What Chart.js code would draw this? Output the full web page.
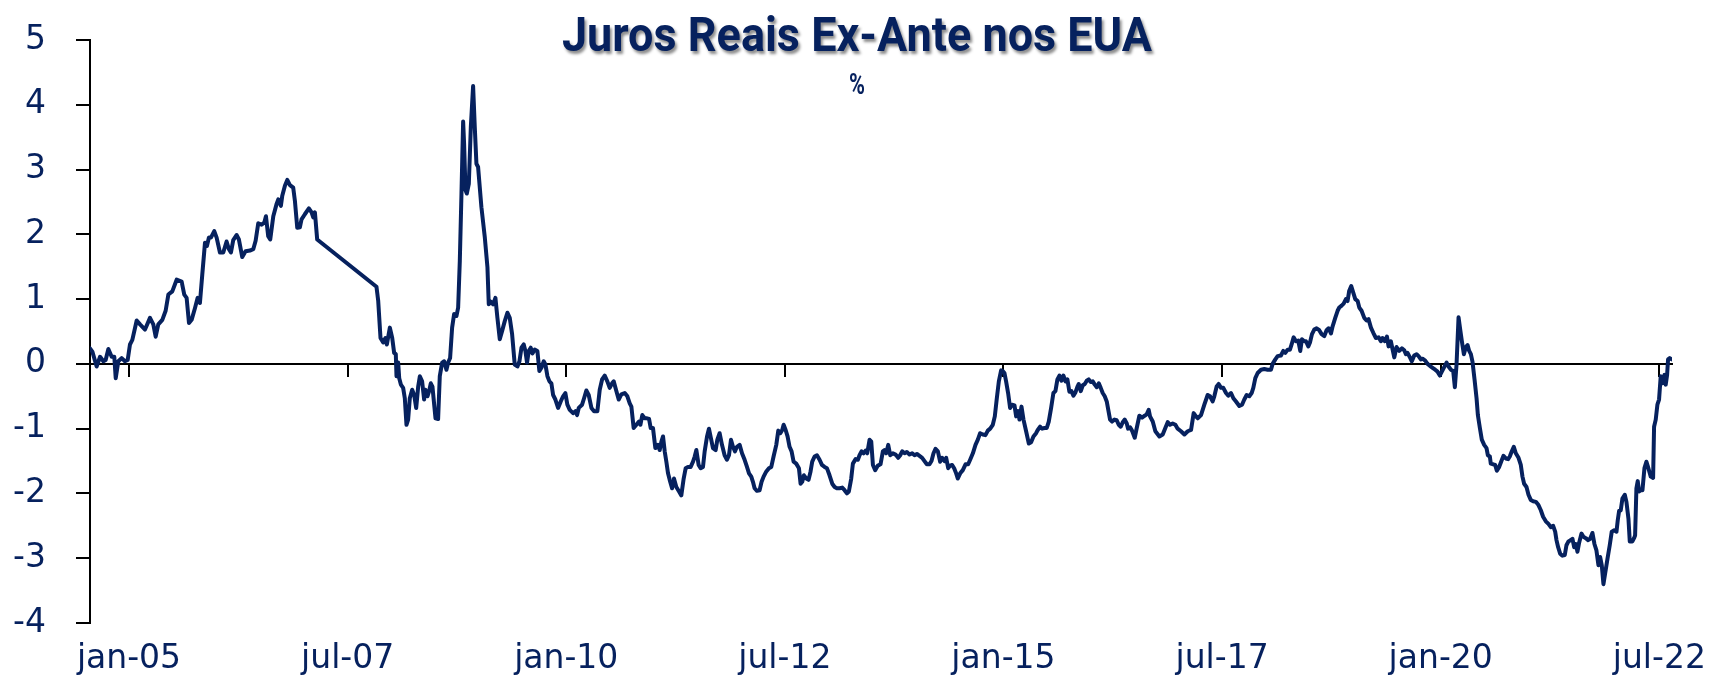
<!DOCTYPE html>
<html lang="pt">
<head>
<meta charset="utf-8">
<title>Juros Reais Ex-Ante nos EUA</title>
<script src="https://cdn.jsdelivr.net/npm/chart.js@4.4.1/dist/chart.umd.min.js"></script>
<style>
  html, body { margin: 0; padding: 0; background: #fff; }
  #wrap { width: 1726px; height: 679px; position: relative; }
</style>
</head>
<body>
<div id="wrap"><canvas id="grafico"></canvas></div>
<script>
'use strict';

// ── Dados ─────────────────────────────────────────────────────────────────────
const TITULO    = 'Juros Reais Ex-Ante nos EUA';
const SUBTITULO = '%';

const rotulosX  = ['jan-05', 'jul-07', 'jan-10', 'jul-12', 'jan-15', 'jul-17', 'jan-20', 'jul-22'];
const posicoesX = [2005, 2007.5, 2010, 2012.5, 2015, 2017.5, 2020, 2022.5];

// datas em anos decimais (semanal); lacuna 2007.15 → 2007.83
const datas = [
  2004.554, 2004.581, 2004.630, 2004.669, 2004.707, 2004.733, 2004.764, 2004.802, 2004.832, 2004.848,
  2004.878, 2004.916, 2004.954, 2004.985, 2005.011, 2005.038, 2005.088, 2005.126, 2005.183, 2005.240,
  2005.278, 2005.305, 2005.335, 2005.381, 2005.419, 2005.450, 2005.495, 2005.545, 2005.602, 2005.632,
  2005.659, 2005.686, 2005.716, 2005.754, 2005.785, 2005.811, 2005.838, 2005.869, 2005.891, 2005.914,
  2005.937, 2005.975, 2006.002, 2006.040, 2006.078, 2006.116, 2006.143, 2006.166, 2006.192, 2006.230,
  2006.257, 2006.295, 2006.333, 2006.383, 2006.421, 2006.448, 2006.478, 2006.516, 2006.547, 2006.566,
  2006.592, 2006.615, 2006.650, 2006.688, 2006.707, 2006.737, 2006.752, 2006.783, 2006.810, 2006.840,
  2006.878, 2006.897, 2006.924, 2006.954, 2006.973, 2007.011, 2007.057, 2007.088, 2007.107, 2007.126,
  2007.152, 2007.830, 2007.850, 2007.876, 2007.907, 2007.933, 2007.949, 2007.983, 2008.010, 2008.032,
  2008.051, 2008.059, 2008.078, 2008.090, 2008.109, 2008.135, 2008.154, 2008.173, 2008.192, 2008.211,
  2008.238, 2008.261, 2008.284, 2008.307, 2008.326, 2008.352, 2008.375, 2008.390, 2008.413, 2008.432,
  2008.451, 2008.470, 2008.490, 2008.505, 2008.535, 2008.554, 2008.581, 2008.604, 2008.630, 2008.650,
  2008.672, 2008.695, 2008.718, 2008.745, 2008.764, 2008.783, 2008.802, 2008.821, 2008.832, 2008.848,
  2008.863, 2008.886, 2008.909, 2008.935, 2008.954, 2008.973, 2008.992, 2009.030, 2009.069, 2009.099,
  2009.114, 2009.137, 2009.164, 2009.190, 2009.213, 2009.240, 2009.267, 2009.297, 2009.328, 2009.354,
  2009.381, 2009.411, 2009.442, 2009.465, 2009.488, 2009.514, 2009.533, 2009.552, 2009.571, 2009.594,
  2009.613, 2009.640, 2009.670, 2009.693, 2009.716, 2009.743, 2009.762, 2009.785, 2009.808, 2009.830,
  2009.850, 2009.876, 2009.907, 2009.937, 2009.964, 2009.990, 2010.013, 2010.040, 2010.078, 2010.105,
  2010.124, 2010.143, 2010.181, 2010.204, 2010.230, 2010.257, 2010.288, 2010.318, 2010.356, 2010.383,
  2010.410, 2010.440, 2010.470, 2010.497, 2010.524, 2010.543, 2010.573, 2010.600, 2010.630, 2010.669,
  2010.699, 2010.726, 2010.745, 2010.771, 2010.802, 2010.832, 2010.848, 2010.870, 2010.897, 2010.924,
  2010.947, 2010.966, 2010.992, 2011.019, 2011.050, 2011.069, 2011.088, 2011.107, 2011.126, 2011.145,
  2011.164, 2011.183, 2011.210, 2011.232, 2011.259, 2011.290, 2011.316, 2011.343, 2011.366, 2011.392,
  2011.423, 2011.450, 2011.469, 2011.488, 2011.514, 2011.537, 2011.564, 2011.583, 2011.610, 2011.632,
  2011.655, 2011.678, 2011.709, 2011.728, 2011.754, 2011.781, 2011.811, 2011.838, 2011.861, 2011.884,
  2011.907, 2011.930, 2011.952, 2011.983, 2012.010, 2012.040, 2012.067, 2012.090, 2012.116, 2012.135,
  2012.154, 2012.181, 2012.211, 2012.234, 2012.257, 2012.288, 2012.318, 2012.345, 2012.371, 2012.402,
  2012.425, 2012.448, 2012.470, 2012.486, 2012.509, 2012.531, 2012.554, 2012.577, 2012.600, 2012.630,
  2012.661, 2012.680, 2012.699, 2012.718, 2012.745, 2012.771, 2012.794, 2012.813, 2012.840, 2012.867,
  2012.897, 2012.924, 2012.954, 2012.981, 2013.011, 2013.042, 2013.069, 2013.095, 2013.126, 2013.156,
  2013.183, 2013.210, 2013.232, 2013.259, 2013.278, 2013.309, 2013.335, 2013.354, 2013.377, 2013.400,
  2013.423, 2013.442, 2013.469, 2013.488, 2013.507, 2013.533, 2013.564, 2013.594, 2013.621, 2013.640,
  2013.659, 2013.682, 2013.705, 2013.735, 2013.766, 2013.796, 2013.819, 2013.842, 2013.869, 2013.895,
  2013.926, 2013.956, 2013.983, 2014.010, 2014.040, 2014.070, 2014.097, 2014.124, 2014.154, 2014.177,
  2014.200, 2014.223, 2014.250, 2014.276, 2014.299, 2014.326, 2014.345, 2014.368, 2014.390, 2014.413,
  2014.436, 2014.459, 2014.478, 2014.505, 2014.535, 2014.566, 2014.596, 2014.619, 2014.650, 2014.680,
  2014.707, 2014.733, 2014.764, 2014.794, 2014.821, 2014.848, 2014.878, 2014.901, 2014.924, 2014.947,
  2014.973, 2014.992, 2015.011, 2015.030, 2015.053, 2015.076, 2015.099, 2015.126, 2015.145, 2015.168,
  2015.183, 2015.206, 2015.229, 2015.259, 2015.290, 2015.316, 2015.343, 2015.373, 2015.392, 2015.419,
  2015.442, 2015.469, 2015.495, 2015.518, 2015.545, 2015.571, 2015.594, 2015.617, 2015.640, 2015.663,
  2015.686, 2015.709, 2015.731, 2015.754, 2015.777, 2015.800, 2015.823, 2015.846, 2015.861, 2015.884,
  2015.907, 2015.930, 2015.952, 2015.975, 2015.998, 2016.021, 2016.044, 2016.067, 2016.090, 2016.112,
  2016.135, 2016.158, 2016.181, 2016.196, 2016.219, 2016.242, 2016.269, 2016.295, 2016.318, 2016.341,
  2016.364, 2016.387, 2016.410, 2016.425, 2016.448, 2016.470, 2016.501, 2016.524, 2016.554, 2016.585,
  2016.615, 2016.638, 2016.661, 2016.676, 2016.707, 2016.737, 2016.783, 2016.821, 2016.851, 2016.878,
  2016.905, 2016.935, 2016.966, 2016.992, 2017.030, 2017.069, 2017.107, 2017.145, 2017.175, 2017.202,
  2017.221, 2017.259, 2017.297, 2017.335, 2017.362, 2017.392, 2017.411, 2017.438, 2017.461, 2017.488,
  2017.514, 2017.545, 2017.571, 2017.602, 2017.629, 2017.659, 2017.697, 2017.728, 2017.754, 2017.781,
  2017.811, 2017.838, 2017.857, 2017.880, 2017.907, 2017.945, 2017.983, 2018.021, 2018.059, 2018.078,
  2018.109, 2018.135, 2018.173, 2018.200, 2018.223, 2018.250, 2018.276, 2018.295, 2018.318, 2018.345,
  2018.371, 2018.394, 2018.413, 2018.440, 2018.459, 2018.486, 2018.505, 2018.528, 2018.554, 2018.581,
  2018.611, 2018.638, 2018.669, 2018.695, 2018.718, 2018.745, 2018.764, 2018.794, 2018.821, 2018.840,
  2018.867, 2018.890, 2018.916, 2018.935, 2018.954, 2018.977, 2019.000, 2019.023, 2019.050, 2019.069,
  2019.095, 2019.126, 2019.152, 2019.175, 2019.202, 2019.229, 2019.259, 2019.290, 2019.316, 2019.335,
  2019.362, 2019.385, 2019.404, 2019.430, 2019.469, 2019.495, 2019.526, 2019.556, 2019.583, 2019.602,
  2019.621, 2019.648, 2019.670, 2019.697, 2019.724, 2019.747, 2019.773, 2019.792, 2019.823, 2019.850,
  2019.876, 2019.907, 2019.937, 2019.964, 2019.990, 2020.013, 2020.040, 2020.067, 2020.090, 2020.116,
  2020.143, 2020.162, 2020.181, 2020.204, 2020.223, 2020.242, 2020.265, 2020.288, 2020.307, 2020.326,
  2020.345, 2020.364, 2020.387, 2020.410, 2020.425, 2020.448, 2020.470, 2020.497, 2020.524, 2020.539,
  2020.562, 2020.573, 2020.600, 2020.623, 2020.642, 2020.669, 2020.691, 2020.718, 2020.745, 2020.771,
  2020.790, 2020.813, 2020.836, 2020.859, 2020.890, 2020.916, 2020.935, 2020.954, 2020.981, 2021.004,
  2021.030, 2021.057, 2021.088, 2021.118, 2021.145, 2021.171, 2021.202, 2021.232, 2021.259, 2021.286,
  2021.309, 2021.324, 2021.343, 2021.366, 2021.392, 2021.419, 2021.438, 2021.461, 2021.488, 2021.507,
  2021.526, 2021.545, 2021.564, 2021.583, 2021.610, 2021.632, 2021.659, 2021.686, 2021.709, 2021.735,
  2021.758, 2021.781, 2021.804, 2021.823, 2021.842, 2021.861, 2021.880, 2021.907, 2021.933, 2021.956,
  2021.983, 2022.010, 2022.025, 2022.040, 2022.059, 2022.078, 2022.105, 2022.124, 2022.147, 2022.162,
  2022.192, 2022.211, 2022.223, 2022.238, 2022.253, 2022.269, 2022.288, 2022.307, 2022.330, 2022.352,
  2022.375, 2022.402, 2022.429, 2022.440, 2022.459, 2022.478, 2022.497, 2022.516, 2022.535, 2022.558,
  2022.573, 2022.589, 2022.600, 2022.619, 2022.642,
];

// juros reais ex-ante, % (mesma ordem das datas)
const juros = [
  0.24, 0.19, -0.04, 0.11, 0.04, 0.06, 0.23, 0.11, 0.11, -0.22,
  0.04, 0.09, 0.04, 0.06, 0.30, 0.37, 0.67, 0.61, 0.53, 0.71,
  0.61, 0.42, 0.61, 0.68, 0.82, 1.07, 1.12, 1.30, 1.27, 1.07,
  1.02, 0.63, 0.68, 0.86, 1.02, 0.94, 1.38, 1.87, 1.82, 1.95,
  1.95, 2.05, 1.95, 1.72, 1.72, 1.89, 1.77, 1.72, 1.91, 1.99,
  1.92, 1.65, 1.74, 1.75, 1.77, 1.90, 2.17, 2.15, 2.18, 2.28,
  1.97, 1.92, 2.28, 2.47, 2.54, 2.44, 2.59, 2.75, 2.84, 2.76,
  2.72, 2.52, 2.10, 2.11, 2.23, 2.31, 2.40, 2.34, 2.26, 2.34,
  1.92, 1.19, 0.97, 0.40, 0.33, 0.40, 0.30, 0.56, 0.40, 0.17,
  0.15, -0.19, 0.02, -0.22, -0.32, -0.37, -0.53, -0.94, -0.86, -0.53,
  -0.40, -0.48, -0.68, -0.35, -0.19, -0.27, -0.55, -0.40, -0.50, -0.42,
  -0.30, -0.35, -0.63, -0.84, -0.85, -0.19, 0.02, 0.04, -0.09, 0.02,
  0.09, 0.56, 0.77, 0.74, 0.87, 1.59, 2.63, 3.74, 3.40, 2.68,
  2.63, 2.78, 3.66, 4.29, 3.66, 3.09, 3.04, 2.42, 1.95, 1.49,
  0.92, 0.96, 0.92, 1.02, 0.71, 0.38, 0.51, 0.66, 0.79, 0.71,
  0.46, -0.01, -0.04, 0.04, 0.25, 0.30, 0.20, 0.02, 0.20, 0.25,
  0.16, 0.22, 0.20, -0.11, -0.06, 0.04, -0.01, -0.19, -0.27, -0.30,
  -0.48, -0.55, -0.68, -0.58, -0.50, -0.45, -0.63, -0.71, -0.76, -0.73,
  -0.79, -0.68, -0.63, -0.53, -0.41, -0.48, -0.68, -0.73, -0.73, -0.40,
  -0.24, -0.18, -0.27, -0.37, -0.30, -0.27, -0.42, -0.55, -0.47, -0.45,
  -0.50, -0.61, -0.66, -0.99, -0.94, -0.89, -0.94, -0.79, -0.84, -0.84,
  -0.85, -0.99, -0.99, -1.30, -1.25, -1.33, -1.20, -1.12, -1.35, -1.51,
  -1.69, -1.79, -1.92, -1.77, -1.90, -1.97, -2.03, -1.77, -1.61, -1.59,
  -1.59, -1.51, -1.43, -1.33, -1.56, -1.61, -1.59, -1.35, -1.12, -1.00,
  -1.15, -1.30, -1.33, -1.17, -1.07, -1.25, -1.41, -1.48, -1.41, -1.17,
  -1.28, -1.35, -1.28, -1.25, -1.38, -1.48, -1.59, -1.69, -1.74, -1.82,
  -1.92, -1.96, -1.95, -1.82, -1.74, -1.66, -1.61, -1.59, -1.43, -1.25,
  -1.03, -1.07, -1.02, -0.94, -1.02, -1.12, -1.28, -1.35, -1.51, -1.54,
  -1.61, -1.85, -1.82, -1.72, -1.77, -1.79, -1.66, -1.51, -1.43, -1.41,
  -1.48, -1.56, -1.59, -1.61, -1.72, -1.85, -1.90, -1.92, -1.92, -1.91,
  -1.95, -2.00, -1.97, -1.77, -1.54, -1.47, -1.48, -1.41, -1.35, -1.38,
  -1.34, -1.38, -1.17, -1.20, -1.56, -1.64, -1.57, -1.55, -1.35, -1.33,
  -1.38, -1.25, -1.41, -1.38, -1.40, -1.45, -1.41, -1.35, -1.38, -1.36,
  -1.40, -1.38, -1.41, -1.39, -1.42, -1.45, -1.50, -1.55, -1.55, -1.50,
  -1.38, -1.31, -1.35, -1.51, -1.45, -1.50, -1.45, -1.61, -1.57, -1.56,
  -1.61, -1.69, -1.77, -1.69, -1.64, -1.55, -1.55, -1.48, -1.38, -1.25,
  -1.17, -1.07, -1.09, -1.10, -1.03, -1.00, -0.94, -0.81, -0.53, -0.27,
  -0.10, -0.11, -0.14, -0.27, -0.45, -0.68, -0.63, -0.64, -0.81, -0.73,
  -0.86, -0.66, -0.86, -1.04, -1.23, -1.21, -1.12, -1.07, -1.02, -0.97,
  -1.00, -0.99, -0.99, -0.89, -0.68, -0.45, -0.42, -0.24, -0.18, -0.26,
  -0.18, -0.27, -0.24, -0.43, -0.42, -0.49, -0.44, -0.35, -0.31, -0.42,
  -0.33, -0.31, -0.26, -0.24, -0.28, -0.27, -0.32, -0.36, -0.30, -0.37,
  -0.45, -0.50, -0.58, -0.69, -0.86, -0.89, -0.86, -0.87, -0.94, -0.97,
  -0.90, -0.86, -0.92, -1.00, -0.98, -1.03, -1.14, -0.99, -0.80, -0.83,
  -0.80, -0.78, -0.71, -0.81, -0.89, -1.04, -1.12, -1.09, -0.99, -0.90,
  -0.94, -0.92, -0.94, -1.00, -1.04, -1.09, -1.04, -1.02, -0.76, -0.81,
  -0.84, -0.79, -0.63, -0.48, -0.50, -0.58, -0.50, -0.35, -0.31, -0.37,
  -0.37, -0.45, -0.49, -0.45, -0.53, -0.58, -0.65, -0.63, -0.55, -0.48,
  -0.50, -0.45, -0.37, -0.22, -0.14, -0.09, -0.08, -0.09, -0.09, 0.00,
  0.07, 0.12, 0.13, 0.20, 0.17, 0.22, 0.22, 0.30, 0.41, 0.35,
  0.36, 0.20, 0.38, 0.35, 0.35, 0.27, 0.33, 0.46, 0.53, 0.55,
  0.52, 0.46, 0.43, 0.52, 0.55, 0.47, 0.58, 0.71, 0.82, 0.87,
  0.90, 0.93, 1.00, 0.97, 1.13, 1.20, 1.10, 1.00, 0.97, 0.87,
  0.82, 0.71, 0.67, 0.69, 0.56, 0.48, 0.40, 0.41, 0.35, 0.40,
  0.35, 0.42, 0.27, 0.35, 0.10, 0.26, 0.20, 0.24, 0.21, 0.15,
  0.17, 0.10, 0.04, 0.13, 0.15, 0.12, 0.07, 0.08, 0.05, 0.00,
  -0.03, -0.06, -0.09, -0.12, -0.18, -0.12, -0.05, 0.02, -0.04, -0.09,
  -0.11, -0.36, -0.01, 0.72, 0.53, 0.35, 0.15, 0.26, 0.29, 0.20,
  0.15, 0.03, -0.24, -0.53, -0.79, -0.99, -1.17, -1.25, -1.30, -1.41,
  -1.43, -1.54, -1.55, -1.56, -1.65, -1.59, -1.51, -1.42, -1.46, -1.47,
  -1.43, -1.35, -1.28, -1.38, -1.45, -1.56, -1.74, -1.85, -1.90, -2.02,
  -2.10, -2.12, -2.13, -2.18, -2.26, -2.36, -2.43, -2.47, -2.52, -2.50,
  -2.59, -2.72, -2.83, -2.93, -2.96, -2.95, -2.80, -2.74, -2.72, -2.70,
  -2.83, -2.78, -2.90, -2.76, -2.62, -2.67, -2.69, -2.72, -2.70, -2.61,
  -2.78, -2.88, -3.11, -2.98, -3.11, -3.40, -3.24, -3.01, -2.80, -2.59,
  -2.57, -2.59, -2.41, -2.27, -2.26, -2.08, -2.02, -2.13, -2.39, -2.74,
  -2.74, -2.69, -2.65, -1.92, -1.81, -1.97, -1.95, -1.95, -1.61, -1.51,
  -1.61, -1.74, -1.76, -0.97, -0.86, -0.63, -0.55, -0.19, -0.30, -0.17,
  -0.32, -0.17, 0.07, 0.09, 0.07,
];

// ── Estilo ────────────────────────────────────────────────────────────────────
const AZUL    = '#06215e';
const PRETO   = '#000000';
const FONTE   = '"DejaVu Sans", sans-serif';
const X_MIN   = 2004.554;
const X_MAX   = 2022.645;

// título com sombra, sobreposto à área do gráfico
const tituloPlugin = {
  id: 'tituloSombra',
  afterDraw(chart) {
    const c = chart.ctx;
    c.save();
    c.fillStyle = AZUL;
    c.textAlign = 'center';
    c.textBaseline = 'alphabetic';
    c.font = 'bold 48px Roboto, sans-serif';
    const larg = c.measureText(TITULO).width;
    c.shadowColor = 'rgba(0,0,0,0.45)';
    c.shadowOffsetX = 2;
    c.shadowOffsetY = 3;
    c.shadowBlur = 3;
    c.translate(857, 51);
    c.scale(590 / larg, 1);
    c.fillText(TITULO, 0, 0);
    c.restore();

    c.save();
    c.fillStyle = AZUL;
    c.textAlign = 'center';
    c.textBaseline = 'alphabetic';
    c.font = 'bold 30px Roboto, sans-serif';
    c.translate(857, 94);
    c.scale(0.72, 1);
    c.fillText(SUBTITULO, 0, 0);
    c.restore();
  },
};

const ticksFixos = s => { s.ticks = posicoesX.map(v => ({ value: v })); };

new Chart(document.getElementById('grafico'), {
  type: 'line',
  data: {
    datasets: [{
      label: TITULO,
      data: datas.map((d, i) => ({ x: d, y: juros[i] })),
      borderColor: AZUL,
      borderWidth: 4,
      pointRadius: 0,
      tension: 0,
      borderJoinStyle: 'round',
      borderCapStyle: 'round',
      fill: false,
    }],
  },
  options: {
    responsive: true, maintainAspectRatio: false,
    animation: false,
    devicePixelRatio: 1,
    layout: { padding: { top: 40, right: 54, bottom: 0, left: 0 } },
    plugins: {
      legend: { display: false },
      tooltip: { enabled: false },
      title: { display: false },
    },
    scales: {
      x: {
        type: 'linear', min: X_MIN, max: X_MAX,
        afterBuildTicks: ticksFixos,
        afterFit: s => { s.height = 56; },
        grid: { display: false },
        border: { display: false },
        ticks: {
          autoSkip: false, maxRotation: 0, padding: 9,
          color: AZUL, font: { family: FONTE, size: 33 },
          callback: (v, i) => rotulosX[i],
        },
      },
      zero: {
        type: 'linear', axis: 'x', position: { y: 0 },
        min: X_MIN, max: X_MAX,
        afterBuildTicks: ticksFixos,
        afterFit: s => { s.height = 0; },
        grid: { display: true, drawOnChartArea: false, drawTicks: true, tickLength: 12, color: PRETO, lineWidth: 2 },
        border: { display: true, color: PRETO, width: 2 },
        ticks: { display: false },
      },
      y: {
        min: -4, max: 5,
        // largura fixa do eixo e sem folga extra acima/abaixo (o padding dos rótulos não deve encolher a área)
        afterFit: s => { s.width = 90; s.paddingTop = 20; s.paddingBottom = 20; },
        grid: { drawOnChartArea: false, drawTicks: true, tickLength: 14, color: PRETO, lineWidth: 2 },
        border: { display: true, color: PRETO, width: 2 },
        ticks: { stepSize: 1, padding: 30, color: AZUL, font: { family: FONTE, size: 33 } },
      },
    },
  },
  plugins: [tituloPlugin],
});
</script>
</body>
</html>
